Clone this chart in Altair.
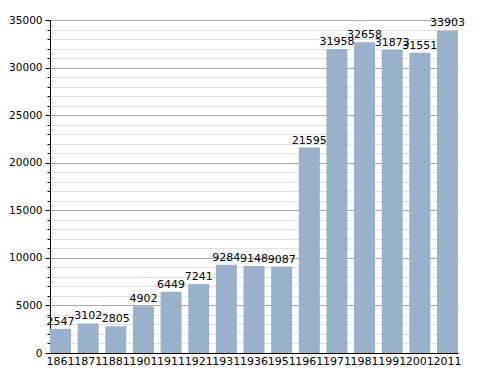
import altair as alt
import pandas as pd

years = ["1861", "1871", "1881", "1901", "1911", "1921", "1931", "1936",
         "1951", "1961", "1971", "1981", "1991", "2001", "2011"]
population = [2547, 3102, 2805, 4902, 6449, 7241, 9284, 9148,
              9087, 21595, 31958, 32658, 31873, 31551, 33903]

df = pd.DataFrame({"year": years, "pop": population})

FONT = "DejaVu Sans"
major = "datum.value % 5000 === 0"

base = alt.Chart(df).encode(
    x=alt.X(
        "year:N", sort=None,
        scale=alt.Scale(paddingInner=0.24, paddingOuter=0.0),
        axis=alt.Axis(title=None, labelAngle=0, ticks=False, domainColor="black",
                      labelFont=FONT, labelFontSize=11, labelColor="black",
                      labelPadding=2),
    ),
    y=alt.Y(
        "pop:Q",
        scale=alt.Scale(domain=[0, 35000], nice=False),
        axis=alt.Axis(
            title=None,
            values=list(range(0, 35001, 1000)),
            format="d",
            labelExpr=f"{major} ? datum.label : ''",
            labelOverlap=False,
            gridColor={"condition": {"test": major, "value": "#aaaaaa"}, "value": "#e2e2e2"},
            tickSize={"condition": {"test": major, "value": 5}, "value": 3},
            tickColor="black",
            domainColor="black",
            labelFont=FONT, labelFontSize=10.5, labelColor="black",
            labelPadding=3,
        ),
    ),
)

bars = base.mark_bar(color="#99b1cb")
labels = base.mark_text(dy=-2, baseline="bottom", font=FONT, fontSize=11,
                        color="black").encode(text=alt.Text("pop:Q", format="d"))

chart = (bars + labels).properties(
    width=408, height=333,
    autosize=alt.AutoSizeParams(type="none"),
    padding={"left": 42, "top": 12, "right": 22, "bottom": 20},
).configure_view(stroke=None)

chart.save("out.html", embed_options={"renderer": "svg", "actions": False})
